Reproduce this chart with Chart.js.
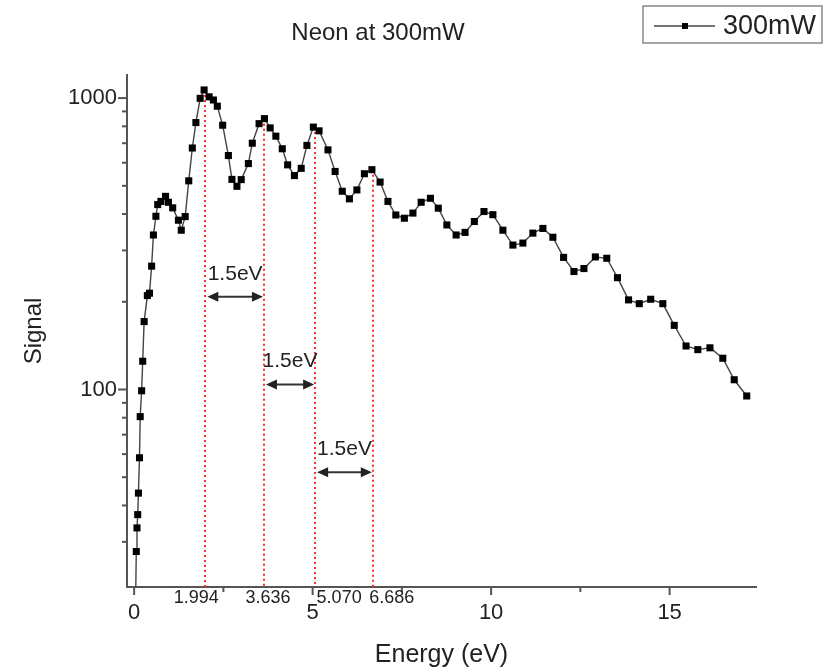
<!DOCTYPE html>
<html>
<head>
<meta charset="utf-8">
<script src="https://cdn.jsdelivr.net/npm/chart.js@4.4.1/dist/chart.umd.min.js"></script>
<style>
html, body { margin: 0; padding: 0; background: #fff; }
</style>
</head>
<body>
<canvas id="myChart" width="831" height="671"></canvas>
<script>
// measured spectrum (energy in eV, signal in counts)
var energy = [0.03, 0.06, 0.08, 0.10, 0.12, 0.15, 0.17, 0.21, 0.24, 0.28,
    0.37, 0.43, 0.49, 0.54, 0.61, 0.66, 0.75, 0.88, 0.96, 1.08,
    1.24, 1.32, 1.43, 1.53, 1.63, 1.73, 1.85, 1.96, 2.10, 2.22,
    2.33, 2.48, 2.64, 2.74, 2.88, 3.00, 3.20, 3.31, 3.50, 3.65,
    3.81, 3.97, 4.15, 4.30, 4.49, 4.68, 4.84, 5.02, 5.18, 5.43,
    5.63, 5.83, 6.03, 6.24, 6.45, 6.66, 6.89, 7.11, 7.33, 7.57,
    7.81, 8.04, 8.30, 8.52, 8.76, 9.02, 9.27, 9.53, 9.80, 10.05,
    10.33, 10.61, 10.89, 11.17, 11.45, 11.73, 12.03, 12.32, 12.60, 12.92,
    13.24, 13.54, 13.85, 14.15, 14.47, 14.81, 15.13, 15.46, 15.79, 16.13,
    16.49, 16.81, 17.16];
var signal = [15, 27.8, 33.5, 37.2, 44.1, 58.3, 80.7, 99, 125, 171,
    210, 214, 265, 339, 393, 431, 442, 460, 439, 420,
    381, 352, 392, 520, 674, 824, 998, 1066, 1010, 985,
    938, 807, 635, 526, 498, 525, 596, 700, 817, 850,
    790, 740, 670, 590, 542, 574, 688, 795, 772, 664,
    560, 479, 451, 484, 550, 568, 515, 442, 397, 387,
    403, 439, 453, 419, 367, 339, 346, 377, 408, 398,
    352, 313, 318, 344, 357, 333, 284, 254, 260, 285,
    282, 242, 203, 197, 204, 197, 166, 141, 137, 139,
    128, 108, 95];

var xTickValues = [0, 5, 10, 15];
var xMinorTicks = [2.5, 7.5, 12.5];
var yTickValues = [100, 1000];
var yMinorTicks = [30, 40, 50, 60, 70, 80, 90, 200, 300, 400, 500, 600, 700, 800, 900];

// peak markers and the 1.5 eV spacing arrows
var markEnergy = [1.994, 3.636, 5.070, 6.686];
var markLabels = ['1.994', '3.636', '5.070', '6.686'];
var markTop = [1066, 850, 795, 568];
var gapLabel = '1.5eV';
var gapLevel = [208, 104, 52];

var FONT = "'Liberation Sans', Arial, sans-serif";
Chart.defaults.font.family = FONT;

var decor = {
    id: 'decor',
    beforeDatasetsDraw: function (chart) {
        var ctx = chart.ctx, x = chart.scales.x, y = chart.scales.y, area = chart.chartArea;
        ctx.save();
        ctx.strokeStyle = '#ff2a2a';
        ctx.lineWidth = 2;
        ctx.setLineDash([2, 3]);
        markEnergy.forEach(function (e, i) {
            var px = Math.round(x.getPixelForValue(e));
            ctx.beginPath();
            ctx.moveTo(px, y.getPixelForValue(markTop[i]));
            ctx.lineTo(px, area.bottom);
            ctx.stroke();
        });
        ctx.restore();
    },
    afterDraw: function (chart) {
        var ctx = chart.ctx, x = chart.scales.x, y = chart.scales.y, area = chart.chartArea;
        ctx.save();
        // tick marks
        ctx.strokeStyle = '#555';
        ctx.lineWidth = 2;
        function xt(v, len) {
            var px = x.getPixelForValue(v);
            ctx.beginPath(); ctx.moveTo(px, area.bottom); ctx.lineTo(px, area.bottom + len); ctx.stroke();
        }
        function yt(v, len) {
            var py = y.getPixelForValue(v);
            ctx.beginPath(); ctx.moveTo(area.left, py); ctx.lineTo(area.left - len, py); ctx.stroke();
        }
        xTickValues.forEach(function (v) { xt(v, 8); });
        xMinorTicks.forEach(function (v) { xt(v, 5); });
        yTickValues.forEach(function (v) { yt(v, 9); });
        yMinorTicks.forEach(function (v) { yt(v, 5); });

        // marker labels under the axis
        var offs = [-9, 4, 24, 19];
        ctx.fillStyle = '#222';
        ctx.font = '18px ' + FONT;
        ctx.textAlign = 'center';
        ctx.textBaseline = 'middle';
        markEnergy.forEach(function (e, i) {
            ctx.fillText(markLabels[i], x.getPixelForValue(e) + offs[i], area.bottom + 11);
        });

        // double-headed arrows
        ctx.strokeStyle = '#333';
        ctx.fillStyle = '#222';
        ctx.lineWidth = 2;
        ctx.font = '21px ' + FONT;
        gapLevel.forEach(function (lv, i) {
            var x1 = x.getPixelForValue(markEnergy[i]) + 2;
            var x2 = x.getPixelForValue(markEnergy[i + 1]) - 1;
            var py = y.getPixelForValue(lv);
            ctx.beginPath(); ctx.moveTo(x1 + 8, py); ctx.lineTo(x2 - 8, py); ctx.stroke();
            ctx.beginPath(); ctx.moveTo(x1, py); ctx.lineTo(x1 + 11, py - 5); ctx.lineTo(x1 + 11, py + 5); ctx.closePath(); ctx.fill();
            ctx.beginPath(); ctx.moveTo(x2, py); ctx.lineTo(x2 - 11, py - 5); ctx.lineTo(x2 - 11, py + 5); ctx.closePath(); ctx.fill();
            ctx.fillText(gapLabel, (x1 + x2) / 2, py - 23);
        });

        // legend box
        ctx.strokeStyle = '#888';
        ctx.lineWidth = 1.5;
        ctx.strokeRect(643, 6, 179, 37);
        ctx.strokeStyle = '#444';
        ctx.lineWidth = 1.4;
        ctx.beginPath(); ctx.moveTo(654, 26); ctx.lineTo(715, 26); ctx.stroke();
        ctx.fillStyle = '#000';
        ctx.fillRect(682, 23, 6, 6);
        ctx.fillStyle = '#222';
        ctx.font = '27px ' + FONT;
        ctx.textAlign = 'left';
        ctx.fillText(chart.data.datasets[0].label, 723, 27);
        ctx.restore();
    }
};

var ctx = document.getElementById('myChart').getContext('2d');
var chart = new Chart(ctx, {
    type: 'line',
    data: {
        datasets: [{
            label: '300mW',
            data: energy.map(function (e, i) { return { x: e, y: signal[i] }; }),
            borderColor: '#444',
            borderWidth: 1.4,
            pointStyle: 'rect',
            pointRadius: 5,
            pointHoverRadius: 5,
            pointBackgroundColor: '#000',
            pointBorderWidth: 0,
            tension: 0,
            fill: false
        }]
    },
    options: {
        responsive: false,
        animation: false,
        events: [],
        layout: { padding: { top: 0, right: 75, bottom: 0, left: 0 } },
        plugins: {
            legend: { display: false },
            tooltip: { enabled: false },
            title: {
                display: true,
                text: 'Neon at 300mW',
                color: '#222',
                font: { size: 24, weight: 'normal' },
                padding: { top: 18.6, bottom: 27.6 }
            }
        },
        scales: {
            x: {
                type: 'linear',
                min: -0.2,
                max: 17.42,
                afterBuildTicks: function (s) { s.ticks = xTickValues.map(function (v) { return { value: v }; }); },
                afterFit: function (s) { s.height = 84; },
                grid: { display: false, drawTicks: false },
                border: { color: '#555', width: 2 },
                ticks: { color: '#222', font: { size: 22 }, padding: 13, maxRotation: 0 },
                title: { display: true, text: 'Energy (eV)', color: '#222', font: { size: 25 }, padding: { top: 0, bottom: 1 } }
            },
            y: {
                type: 'logarithmic',
                min: 21,
                max: 1200,
                afterBuildTicks: function (s) { s.ticks = yTickValues.map(function (v) { return { value: v }; }); },
                afterFit: function (s) { s.width = 127; },
                grid: { display: false, drawTicks: false },
                border: { color: '#555', width: 2 },
                ticks: { color: '#222', font: { size: 22 }, padding: 10, callback: function (v) { return String(v); } },
                title: { display: true, text: 'Signal', color: '#222', font: { size: 24 }, padding: { top: 20, bottom: 0 } }
            }
        }
    },
    plugins: [decor]
});
</script>
</body>
</html>
